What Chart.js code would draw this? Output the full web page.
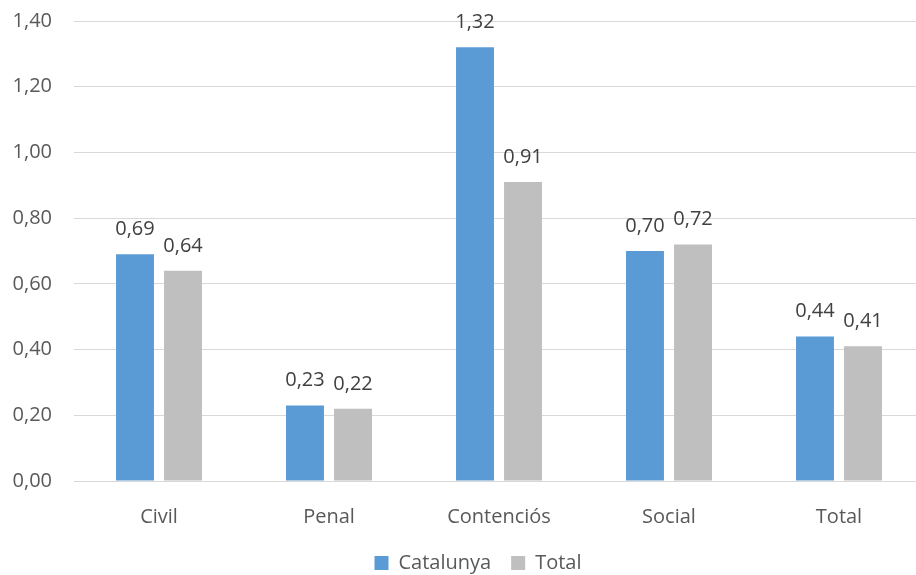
<!DOCTYPE html>
<html>
<head>
<meta charset="utf-8">
<script src="https://cdn.jsdelivr.net/npm/chart.js@4"></script>
<style>
  html, body { margin: 0; padding: 0; background: #fff; overflow: hidden; }
  #wrap { width: 956px; height: 575px; position: relative; }
</style>
</head>
<body>
<div id="wrap"><canvas id="barChart"></canvas></div>
<script>
const categories = ['Civil', 'Penal', 'Contenciós', 'Social', 'Total'];
const catalunya = [0.69, 0.23, 1.32, 0.70, 0.44];
const total = [0.64, 0.22, 0.91, 0.72, 0.41];
const yTicks = [0, 0.2, 0.4, 0.6, 0.8, 1.0, 1.2, 1.4];

const fmt = v => v.toFixed(2).replace('.', ',');
const FONT = "'Open Sans', sans-serif";
const SIZE = 20;

// value labels above each bar
const barLabels = {
    id: 'barLabels',
    afterDatasetsDraw(chart) {
        const ctx = chart.ctx;
        ctx.save();
        ctx.font = SIZE + 'px ' + FONT;
        ctx.fillStyle = '#404040';
        ctx.textAlign = 'center';
        ctx.textBaseline = 'alphabetic';
        chart.data.datasets.forEach((ds, i) => {
            chart.getDatasetMeta(i).data.forEach((bar, j) => {
                ctx.fillText(fmt(ds.data[j]), bar.x, bar.y - 19);
            });
        });
        ctx.restore();
    }
};

// fixed legend height, and legend centred under the plot area
const legendFix = {
    id: 'legendFix',
    beforeUpdate(chart) {
        const lg = chart.legend;
        if (lg && !lg._fixed) {
            const fit = lg.fit;
            lg.fit = function () { fit.call(this); this.height = 42; };
            const draw = lg.draw;
            lg.draw = function (area) {
                this.ctx.save();
                this.ctx.translate(16, 0);
                draw.call(this, area);
                this.ctx.restore();
            };
            lg._fixed = true;
        }
    }
};

new Chart(document.getElementById('barChart'), {
    type: 'bar',
    data: {
        labels: categories,
        datasets: [{
            label: 'Catalunya',
            data: catalunya,
            backgroundColor: '#5b9bd5'
        }, {
            label: 'Total',
            data: total,
            backgroundColor: '#bfbfbf'
        }]
    },
    options: {
        responsive: true,
        maintainAspectRatio: false,
        animation: false,
        categoryPercentage: 0.565,
        barPercentage: 0.79,
        layout: { padding: { top: 21, right: 32, left: 0, bottom: 0 } },
        plugins: {
            legend: {
                position: 'bottom',
                labels: {
                    boxWidth: 14,
                    boxHeight: 14,
                    padding: 20,
                    color: '#595959',
                    font: { family: FONT, size: SIZE }
                }
            },
            tooltip: { enabled: false }
        },
        scales: {
            x: {
                grid: { display: false },
                border: { color: '#d9d9d9' },
                afterFit(scale) { scale.height = 52; },
                ticks: {
                    color: '#595959',
                    padding: 16,
                    font: { family: FONT, size: SIZE }
                }
            },
            y: {
                min: 0,
                max: 1.4,
                afterBuildTicks(scale) {
                    scale.ticks = yTicks.map(v => ({ value: v }));
                },
                afterFit(scale) {
                    scale.width = 74;
                    scale.paddingTop = 0;
                    scale.paddingBottom = 0;
                },
                grid: { color: '#d9d9d9', drawTicks: false },
                border: { display: false },
                ticks: {
                    color: '#595959',
                    padding: 22,
                    font: { family: FONT, size: SIZE },
                    callback: v => fmt(v)
                }
            }
        }
    },
    plugins: [barLabels, legendFix]
});
</script>
</body>
</html>
